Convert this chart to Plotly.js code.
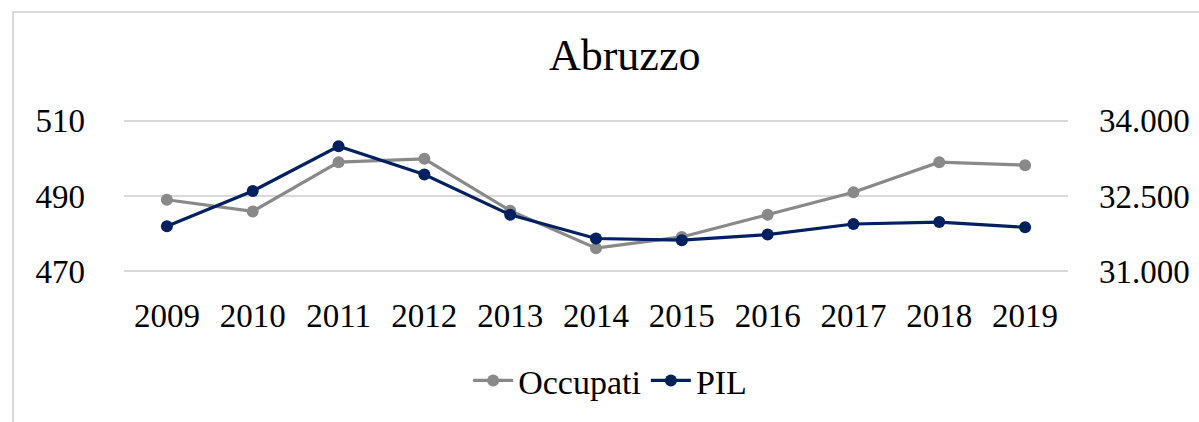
<!DOCTYPE html>
<html>
<head>
<meta charset="utf-8">
<script src="https://cdn.plot.ly/plotly-3.0.1.min.js"></script>
<style>
  html, body { margin: 0; padding: 0; background: #fff; }
  #wrap { position: relative; width: 1199px; height: 422px; }
  #chart { width: 1199px; height: 422px; }
  #frame { position: absolute; left: 12px; top: 11px; right: -5px; bottom: -5px;
           border-left: 2px solid #d9d9d9; border-top: 2px solid #d9d9d9; pointer-events: none; }
</style>
</head>
<body>
<div id="wrap">
  <div id="chart"></div>
  <div id="frame"></div>
</div>
<script>
const years = ["2009","2010","2011","2012","2013","2014","2015","2016","2017","2018","2019"];
const occupati = [489.0, 485.9, 499.0, 499.9, 486.1, 476.1, 479.1, 485.0, 491.0, 499.0, 498.2];
const pil = [31894, 32599, 33493, 32928, 32125, 31651, 31618, 31730, 31941, 31980, 31875];
const leftTicks = [470, 490, 510];
const rightTicks = [31000, 32500, 34000];

const FONT = "Liberation Serif, Times New Roman, serif";
const GRAY = "#898989";
const NAVY = "#002060";

const traces = [
  {
    x: years, y: occupati, name: "Occupati", type: "scatter", mode: "lines+markers",
    line: { color: GRAY, width: 3.2 }, marker: { color: GRAY, size: 12 },
    yaxis: "y", cliponaxis: false
  },
  {
    x: years, y: pil, name: "PIL", type: "scatter", mode: "lines+markers",
    line: { color: NAVY, width: 3.2 }, marker: { color: NAVY, size: 12 },
    yaxis: "y2", cliponaxis: false
  }
];

const layout = {
  width: 1199, height: 422,
  margin: { l: 124, r: 131, t: 119, b: 147 },
  paper_bgcolor: "#fff", plot_bgcolor: "#fff",
  separators: ",.",
  font: { family: FONT, color: "#000", size: 33 },
  title: {
    text: "Abruzzo", font: { family: FONT, size: 44, color: "#000" },
    xref: "container", x: 0.521, xanchor: "center",
    yref: "container", y: 0.87, yanchor: "middle"
  },
  xaxis: {
    type: "category", range: [-0.5, 10.5], showgrid: false, zeroline: false, showline: false,
    ticks: "", tickfont: { family: FONT, size: 33, color: "#000" },
    ticklabelstandoff: 20, automargin: false
  },
  yaxis: {
    range: [469.5, 510.5], tickvals: leftTicks, ticktext: leftTicks.map(String),
    showgrid: true, gridcolor: "#d9d9d9", gridwidth: 2,
    zeroline: false, showline: false, ticks: "",
    tickfont: { family: FONT, size: 33, color: "#000" },
    ticklabelstandoff: 38, automargin: false
  },
  yaxis2: {
    range: [30962.5, 34037.5], tickvals: rightTicks, tickformat: ",d",
    overlaying: "y", side: "right", showgrid: false,
    zeroline: false, showline: false, ticks: "",
    tickfont: { family: FONT, size: 33, color: "#000" },
    ticklabelstandoff: 30, automargin: false
  },
  showlegend: true,
  legend: {
    orientation: "h", x: 0.515, xanchor: "center", y: -0.70, yanchor: "middle",
    font: { family: FONT, size: 34, color: "#000" },
    bgcolor: "rgba(0,0,0,0)", itemwidth: 40, tracegroupgap: 0
  }
};

Plotly.newPlot("chart", traces, layout, { displayModeBar: false, staticPlot: true });
</script>
</body>
</html>
